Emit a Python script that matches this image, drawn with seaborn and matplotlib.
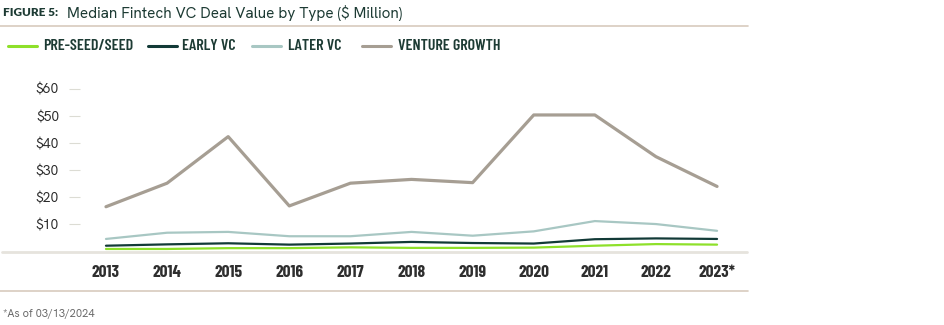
import matplotlib
matplotlib.use("Agg")
import matplotlib.pyplot as plt
from matplotlib.lines import Line2D
import pandas as pd
import seaborn as sns

years = [2013, 2014, 2015, 2016, 2017, 2018, 2019, 2020, 2021, 2022, 2023]
year_labels = ["2013", "2014", "2015", "2016", "2017", "2018", "2019", "2020", "2021", "2022", "2023*"]

pre_seed = [0.9, 0.9, 1.2, 1.2, 1.5, 1.3, 1.3, 1.4, 2.1, 2.7, 2.5]
early_vc = [2.1, 2.6, 3.0, 2.5, 2.9, 3.5, 3.1, 2.9, 4.5, 4.8, 4.6]
later_vc = [4.6, 6.9, 7.2, 5.6, 5.6, 7.2, 5.8, 7.4, 11.2, 10.1, 7.6]
venture_growth = [16.5, 25.2, 42.4, 16.8, 25.2, 26.6, 25.4, 50.4, 50.4, 35.0, 24.0]

series_names = ["PRE-SEED/SEED", "EARLY VC", "LATER VC", "VENTURE GROWTH"]
series_colors = ["#8ee02a", "#123a37", "#a8c7c3", "#a69e93"]
series_widths = [1.6, 1.6, 1.6, 2.3]

y_ticks = [10, 20, 30, 40, 50, 60]

frames = []
for name, vals in zip(series_names, [pre_seed, early_vc, later_vc, venture_growth]):
    frames.append(pd.DataFrame({"year": years, "value": vals, "type": name}))
df = pd.concat(frames, ignore_index=True)

sns.set_style("white")
BODY = ["Hanken Grotesk", "Lato", "DejaVu Sans"]
COND = ["Barlow Condensed", "DejaVu Sans"]
plt.rcParams["font.family"] = BODY

W, H = 945, 325
fig = plt.figure(figsize=(W / 100, H / 100), dpi=100)
ax = fig.add_axes([80 / W, (H - 251.4) / H, (747 - 80) / W, (251.4 - 80) / H])

palette = dict(zip(series_names, series_colors))
sns.lineplot(data=df, x="year", y="value", hue="type", hue_order=series_names,
             palette=palette, ax=ax, legend=False)
for line, lw, z in zip(ax.get_lines(), series_widths, [6, 5, 4, 3]):
    line.set_linewidth(lw)
    line.set_zorder(z)

ax.set_xlim(2012.575, 2023.49)
ax.set_ylim(0, (251.4 - 80) / 2.707)
ax.set_xticks(years)
ax.set_xticklabels(year_labels, fontfamily=COND, fontweight="bold",
                   fontsize=12.5, color="#2e2e2e")
ax.set_yticks(y_ticks)
ax.set_yticklabels([f"${v}" for v in y_ticks], fontsize=10, color="#2b2b2b")
ax.tick_params(axis="y", length=8, width=0.8, color="#dcdcd4", pad=7, left=True)
ax.tick_params(axis="x", length=0, pad=10)
ax.set_xlabel("")
ax.set_ylabel("")
for s in ax.spines.values():
    s.set_visible(False)

# baseline across the chart
fig.add_artist(Line2D([2 / W, 747 / W], [(H - 252) / H] * 2, color="#e6e3dd", lw=2))
# rules under the title and above the footnote
fig.add_artist(Line2D([0, 748 / W], [(H - 26) / H] * 2, color="#d8cbbd", lw=1.2))
fig.add_artist(Line2D([0, 748 / W], [(H - 291) / H] * 2, color="#d8cbbd", lw=1.2))

fig.text(3 / W, (H - 13) / H, "FIGURE 5:", fontsize=8.5, fontweight="heavy",
         fontfamily=["Lato", "DejaVu Sans"], color="#1d3b34", va="center", ha="left")
fig.text(67 / W, (H - 13) / H, "Median Fintech VC Deal Value by Type ($ Million)",
         fontsize=11, color="#1d3b34", va="center", ha="left")

# legend row: line swatch followed by its label
swatch_x = [8, 148, 252, 362]
label_x = [43, 182, 288, 398]
legend_y = (H - 46) / H
for name, color, sx, lx in zip(series_names, series_colors, swatch_x, label_x):
    fig.add_artist(Line2D([sx / W, (sx + 29) / W], [legend_y] * 2, color=color, lw=2.2))
    fig.text(lx / W, legend_y, name, fontfamily=COND, fontweight="semibold",
             fontsize=11.5, color="#1d3b34", va="center", ha="left")

fig.text(3 / W, (H - 314) / H, "*As of 03/13/2024", fontsize=8, color="#6a6a6a",
         va="center", ha="left")

fig.savefig("out.png", dpi=100)
